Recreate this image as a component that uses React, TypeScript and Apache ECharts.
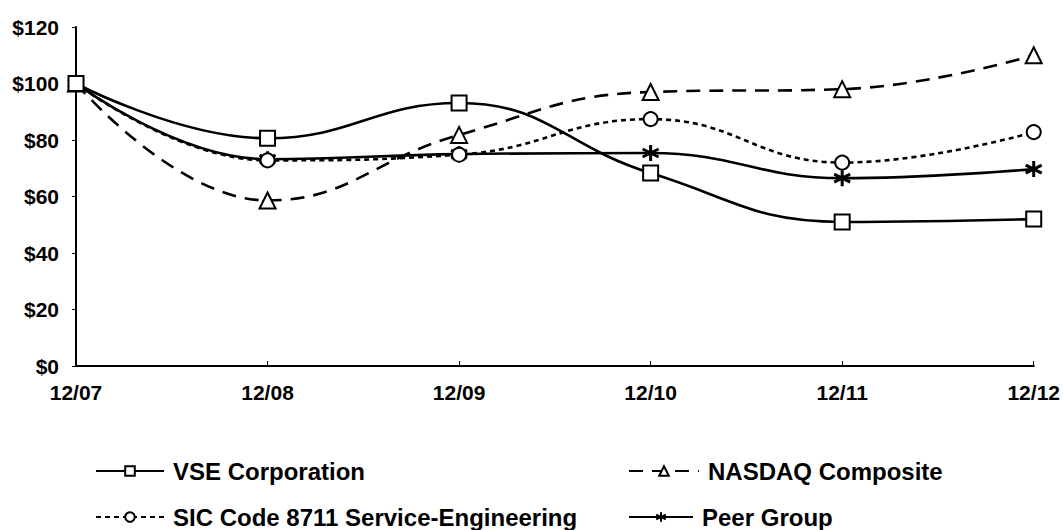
import React, { useEffect, useRef } from "react";
import * as echarts from "echarts";

const categories = ["12/07", "12/08", "12/09", "12/10", "12/11", "12/12"];
const vse = [100, 80.6, 93.1, 68.3, 51, 52];
const nasdaq = [100, 58.6, 81.8, 97, 98, 110];
const sic = [100, 72.8, 74.8, 87.4, 72, 82.8];
const peer = [100, 73.2, 75, 75.4, 66.5, 69.7];
const seriesNames = [
  "VSE Corporation",
  "NASDAQ Composite",
  "SIC Code 8711 Service-Engineering",
  "Peer Group",
];

const FONT = "'Liberation Sans', Arial, sans-serif";
const STAR = "path://M5,0 L5,10 M0.7,2.5 L9.3,7.5 M0.7,7.5 L9.3,2.5";

export default function App() {
  const ref = useRef<HTMLDivElement>(null);
  useEffect(() => {
    if (!ref.current) return;
    const chart = echarts.init(ref.current, undefined, { renderer: "svg" });
    const marker = {
      color: "#fff",
      borderColor: "#000",
      borderWidth: 2,
    };
    const mkSeries = (
      name: string,
      data: number[],
      symbol: string,
      size: number,
      type: any,
      z: number
    ) => ({
      name,
      type: "line",
      data,
      smooth: 0.45,
      symbol,
      symbolSize: size,
      showAllSymbol: true,
      z,
      lineStyle: { color: "#000", width: 2.6, type },
      itemStyle: { ...marker },
      emphasis: { disabled: true },
    });
    const legendText = {
      fontFamily: FONT,
      fontWeight: "bold",
      fontSize: 24,
      color: "#000",
      padding: [0, 0, 0, 4],
    };
    const mkLegend = (name: string, left: number, top: number, w: number) => ({
      data: [name],
      left,
      top,
      padding: 0,
      itemWidth: w,
      itemHeight: 12,
      itemGap: 0,
      textStyle: legendText,
      selectedMode: false,
    });
    const axisText = {
      fontFamily: FONT,
      fontWeight: "bold",
      fontSize: 21,
      color: "#000",
    };
    chart.setOption({
      animation: false,
      backgroundColor: "#fff",
      grid: { left: 76, right: 28, top: 27, bottom: 164, containLabel: false },
      legend: [
        mkLegend(seriesNames[0], 95, 459, 68),
        mkLegend(seriesNames[1], 628, 459, 70),
        mkLegend(seriesNames[2], 95, 505, 68),
        mkLegend(seriesNames[3], 628, 505, 64),
      ],
      xAxis: {
        type: "category",
        data: categories,
        boundaryGap: false,
        axisLine: { lineStyle: { color: "#000", width: 2 } },
        axisTick: { inside: true, length: 5, lineStyle: { color: "#000" } },
        axisLabel: { ...axisText, margin: 16 },
      },
      yAxis: {
        type: "value",
        min: 0,
        max: 120,
        interval: 20,
        axisLine: { show: true, lineStyle: { color: "#000", width: 2 } },
        axisTick: { show: true, length: 4, lineStyle: { color: "#000" } },
        splitLine: { show: false },
        axisLabel: {
          ...axisText,
          margin: 17,
          formatter: (v: number) => "$" + v,
        },
      },
      series: [
        mkSeries(seriesNames[0], vse, "rect", 15, "solid", 4),
        mkSeries(seriesNames[1], nasdaq, "triangle", 16, [14, 9], 3),
        mkSeries(seriesNames[2], sic, "circle", 14, [5, 4], 2),
        {
          ...mkSeries(seriesNames[3], peer, STAR, 16, "solid", 1),
          itemStyle: { color: "none", borderColor: "#000", borderWidth: 3 },
        },
      ],
    });
    return () => chart.dispose();
  }, []);
  return (
    <div
      ref={ref}
      style={{ position: "fixed", left: 0, top: 0, width: 1063, height: 530 }}
    />
  );
}
